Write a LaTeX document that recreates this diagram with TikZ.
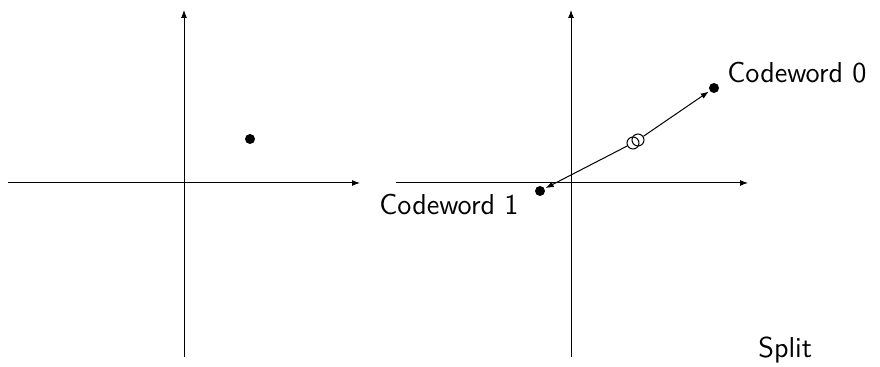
\documentclass[tikz,border=0pt]{standalone}
\usetikzlibrary{arrows.meta}
\begin{document}
\begin{tikzpicture}[x=0.5pt,y=-0.5pt,
  axis/.style={line width=0.5pt,-{Latex[length=4pt,width=3pt]}},
  dot/.style={circle,fill=black,inner sep=0pt,minimum size=5pt},
  ring/.style={circle,draw=black,line width=0.5pt,inner sep=0pt,minimum size=6pt},
  vec/.style={line width=0.5pt,-{Latex[length=4pt,width=3pt]},shorten >=0.5pt},
  lbl/.style={font=\sffamily\Large,inner sep=0pt}]
\useasboundingbox (0,0) rectangle (880,367);
% left axes
\coordinate (lxs) at (8,183); \coordinate (lxe) at (360,183);
\coordinate (lys) at (184,357); \coordinate (lye) at (184,10);
\draw[axis] (lxs) -- (lxe);
\draw[axis] (lys) -- (lye);
\node[dot] (p) at (250,139) {};
% right axes
\coordinate (rxs) at (396,183); \coordinate (rxe) at (748,183);
\coordinate (rys) at (571,357); \coordinate (rye) at (571,10);
\draw[axis] (rxs) -- (rxe);
\draw[axis] (rys) -- (rye);
\node[dot] (c0) at (714,88) {};
\node[dot] (c1) at (540,191) {};
\node[ring] (r1) at (633,143) {};
\node[ring] (r2) at (638,140) {};
\draw[vec] (r2) -- (c0);
\draw[vec] (r1) -- (c1);
\node[lbl,anchor=base west] (t0) at (727,83) {Codeword 0};
\node[lbl,anchor=base west] (t1) at (379,215) {Codeword 1};
\node[lbl,anchor=base west] (ts) at (758,358) {Split};
\end{tikzpicture}
\end{document}
